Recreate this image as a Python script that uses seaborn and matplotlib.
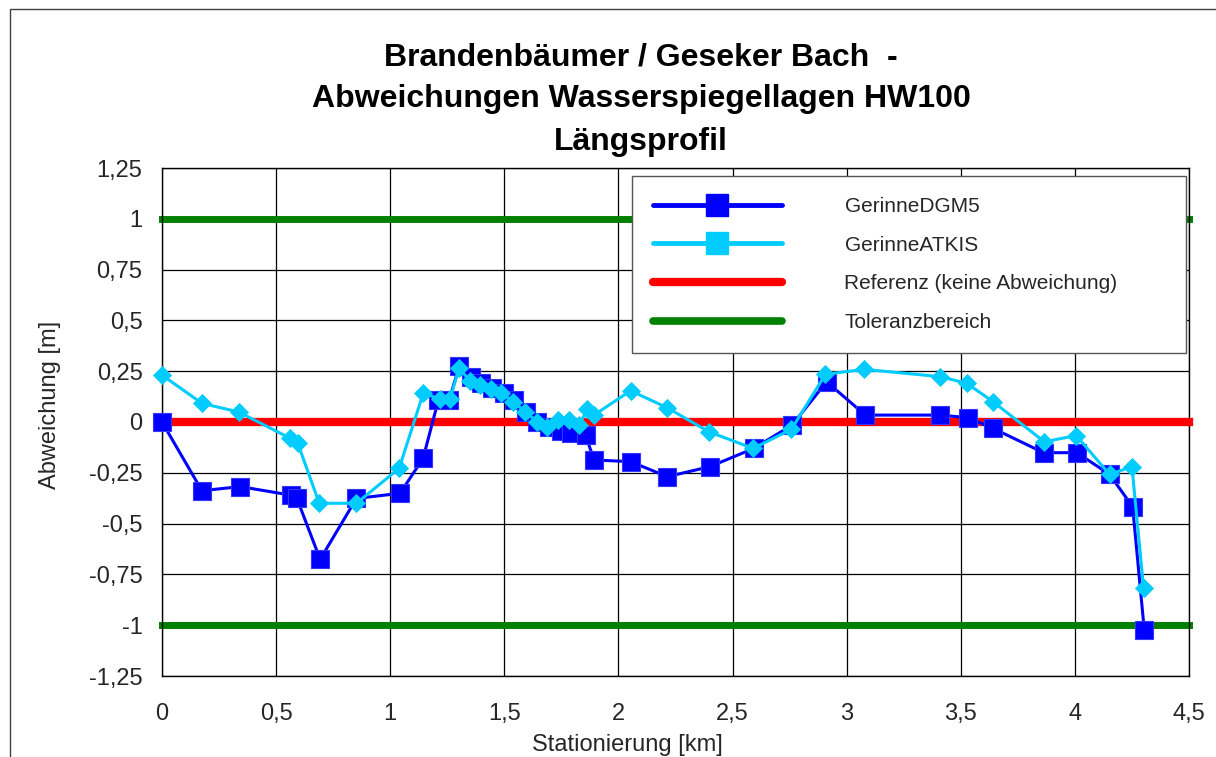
import matplotlib
matplotlib.use("Agg")
import matplotlib.pyplot as plt
import seaborn as sns
from matplotlib.lines import Line2D
from matplotlib.patches import Rectangle

# Stationierung [km] und Abweichung [m] – GerinneDGM5
station_dgm5 = [0.0, 0.175, 0.343, 0.565, 0.591, 0.693, 0.852, 1.043, 1.144, 1.211,
                1.258, 1.303, 1.353, 1.397, 1.448, 1.499, 1.543, 1.597, 1.645, 1.696,
                1.747, 1.791, 1.856, 1.893, 2.053, 2.214, 2.400, 2.593, 2.761, 2.912,
                3.082, 3.411, 3.532, 3.641, 3.863, 4.009, 4.152, 4.253, 4.304]
abw_dgm5 = [0.0, -0.338, -0.318, -0.360, -0.376, -0.676, -0.376, -0.351, -0.179, 0.108,
            0.108, 0.276, 0.220, 0.190, 0.169, 0.144, 0.108, 0.051, 0.0, -0.026,
            -0.043, -0.056, -0.064, -0.187, -0.195, -0.269, -0.220, -0.130, -0.015, 0.198,
            0.034, 0.034, 0.021, -0.031, -0.151, -0.151, -0.258, -0.417, -1.024]

# Stationierung [km] und Abweichung [m] – GerinneATKIS
station_atkis = [0.0, 0.175, 0.336, 0.562, 0.594, 0.689, 0.852, 1.039, 1.145, 1.219,
                 1.262, 1.301, 1.350, 1.394, 1.440, 1.487, 1.540, 1.591, 1.645, 1.689,
                 1.733, 1.783, 1.827, 1.864, 1.893, 2.053, 2.214, 2.396, 2.590, 2.758,
                 2.907, 3.078, 3.411, 3.527, 3.641, 3.866, 4.006, 4.152, 4.250, 4.301]
abw_atkis = [0.231, 0.092, 0.049, -0.080, -0.102, -0.400, -0.400, -0.228, 0.142, 0.112,
             0.112, 0.264, 0.203, 0.182, 0.161, 0.141, 0.100, 0.051, 0.0, -0.023,
             0.010, 0.010, -0.015, 0.062, 0.034, 0.154, 0.070, -0.048, -0.130, -0.036,
             0.235, 0.259, 0.223, 0.190, 0.100, -0.097, -0.067, -0.258, -0.220, -0.818]

# Referenz und Toleranzbereich
ref_x = [0.0, 4.5]
ref_y = [0.0, 0.0]
tol_x = [0.0, 4.5]
tol_oben = [1.0, 1.0]
tol_unten = [-1.0, -1.0]

x_ticks = [0, 0.5, 1, 1.5, 2, 2.5, 3, 3.5, 4, 4.5]
x_tick_labels = ["0", "0,5", "1", "1,5", "2", "2,5", "3", "3,5", "4", "4,5"]
y_ticks = [1.25, 1, 0.75, 0.5, 0.25, 0, -0.25, -0.5, -0.75, -1, -1.25]
y_tick_labels = ["1,25", "1", "0,75", "0,5", "0,25", "0", "-0,25", "-0,5", "-0,75", "-1", "-1,25"]

labels = ["GerinneDGM5", "GerinneATKIS", "Referenz (keine Abweichung)", "Toleranzbereich"]

C_DGM5 = "#0000FF"
C_ATKIS = "#00CCFF"
C_REF = "#FF0000"
C_TOL = "#008000"

sns.set_style("white")
plt.rcParams["font.family"] = ["Liberation Sans", "DejaVu Sans"]

W, H = 1216, 757
fig = plt.figure(figsize=(W / 100, H / 100), dpi=100)
fig.patch.set_facecolor("white")

# outer frame of the chart area
fig.patches.append(Rectangle((10 / W, -0.05), 1.2, 1 - 9 / H + 0.05,
                             transform=fig.transFigure, fill=False,
                             edgecolor="#404040", linewidth=1.0))

ax = fig.add_axes([162 / W, 1 - 676 / H, 1027 / W, 508 / H])
ax.set_facecolor("white")

# tolerance band and reference line
for yv in (tol_oben, tol_unten):
    sns.lineplot(x=tol_x, y=yv, ax=ax, color=C_TOL, linewidth=5,
                 estimator=None, sort=False, legend=False,
                 solid_capstyle="projecting", clip_on=False, zorder=2)
sns.lineplot(x=ref_x, y=ref_y, ax=ax, color=C_REF, linewidth=6,
             estimator=None, sort=False, legend=False,
             solid_capstyle="projecting", clip_on=False, zorder=3)

# series
sns.lineplot(x=station_dgm5, y=abw_dgm5, ax=ax, color=C_DGM5, linewidth=2.2,
             marker="s", markersize=12.5, markeredgecolor="#3535ff", markeredgewidth=0.8,
             estimator=None, sort=False, legend=False, clip_on=False, zorder=4)
sns.lineplot(x=station_atkis, y=abw_atkis, ax=ax, color=C_ATKIS, linewidth=2.2,
             marker="D", markersize=9.3, markeredgecolor=C_ATKIS, markeredgewidth=0.6,
             estimator=None, sort=False, legend=False, clip_on=False, zorder=5)

ax.set_xlim(0, 4.5)
ax.set_ylim(-1.25, 1.25)
ax.set_xticks(x_ticks)
ax.set_xticklabels(x_tick_labels)
ax.set_xticks([i / 10 for i in range(46)], minor=True)
ax.set_yticks(y_ticks)
ax.set_yticklabels(y_tick_labels)

ax.grid(True, which="major", color="black", linewidth=0.9)
ax.set_axisbelow(True)
for s in ax.spines.values():
    s.set_color("black")
    s.set_linewidth(1.0)

ax.tick_params(axis="x", which="both", direction="inout", length=11, width=1,
               color="black", labelsize=17, pad=14, top=False)
ax.tick_params(axis="y", which="major", direction="out", length=7, width=1,
               color="black", labelsize=17, pad=7, right=False)

ax.set_xlabel("Stationierung [km]", fontsize=17)
ax.set_ylabel("Abweichung [m]", fontsize=17)
ax.xaxis.set_label_coords(0.453, -0.115)
ax.yaxis.set_label_coords(-0.098, 0.533)

# title
title_lines = ["Brandenbäumer / Geseker Bach  -",
               "Abweichungen Wasserspiegellagen HW100",
               "Längsprofil"]
for line, base in zip(title_lines, (65, 107, 150)):
    fig.text(641 / W, 1 - base / H, line, ha="center", va="baseline",
             fontsize=23, fontweight="bold", color="black")

# legend
handles = [
    Line2D([], [], color=C_DGM5, linewidth=3.5, marker="s", markersize=15.5),
    Line2D([], [], color=C_ATKIS, linewidth=3.5, marker="s", markersize=15.5),
    Line2D([], [], color=C_REF, linewidth=6),
    Line2D([], [], color=C_TOL, linewidth=5.5),
]
x0 = (632 - 162) / 1027
x1 = (1186 - 162) / 1027
y1 = (676 - 176) / 508
y0 = (676 - 350) / 508
leg = ax.legend(handles, labels, loc="upper left",
                bbox_to_anchor=(x0, y0, x1 - x0, y1 - y0), mode="expand",
                borderaxespad=0, fontsize=15, handlelength=6.2, handletextpad=3.0,
                labelspacing=0.95, borderpad=1.0, frameon=True, fancybox=False,
                framealpha=1)
leg.get_frame().set_edgecolor("#555555")
leg.get_frame().set_linewidth(1.0)
leg.set_zorder(10)

fig.savefig("out.png", dpi=100, facecolor="white")
